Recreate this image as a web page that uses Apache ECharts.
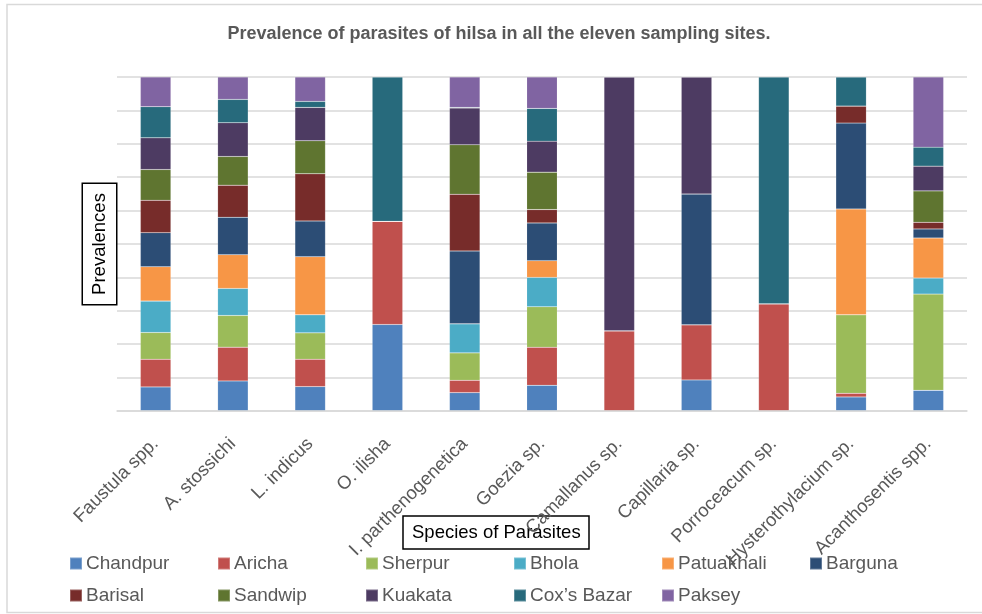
<!DOCTYPE html>
<html>
<head>
<meta charset="utf-8">
<script src="https://cdn.jsdelivr.net/npm/echarts@6/dist/echarts.min.js"></script>
<style>
html,body{margin:0;padding:0;background:#fff;}
#chart{width:982px;height:614px;}
</style>
</head>
<body>
<div id="chart"></div>
<script>
const categories = ["Faustula spp.", "A. stossichi", "L. indicus", "O. ilisha", "I. parthenogenetica", "Goezia sp.", "Camallanus sp.", "Capillaria sp.", "Porroceacum sp.", "Hysterothylacium sp.", "Acanthosentis spp."];
const sites = ["Chandpur", "Aricha", "Sherpur", "Bhola", "Patuakhali", "Barguna", "Barisal", "Sandwip", "Kuakata", "Cox’s Bazar", "Paksey"];
const chandpur   = [7.2, 9.0, 7.3, 25.9, 5.5, 7.7, 0, 9.3, 0, 4.2, 6.2];
const aricha     = [8.3, 10.1, 8.2, 30.9, 3.7, 11.4, 24.0, 16.5, 32.1, 1.1, 0];
const sherpur    = [8.0, 9.5, 7.9, 0, 8.2, 12.1, 0, 0, 0, 23.5, 28.8];
const bhola      = [9.4, 8.1, 5.4, 0, 8.7, 8.8, 0, 0, 0, 0, 4.8];
const patuakhali = [10.3, 10.1, 17.4, 0, 0, 5.0, 0, 0, 0, 31.7, 12.0];
const barguna    = [10.2, 11.2, 10.7, 0, 21.8, 11.3, 0, 39.2, 0, 25.7, 2.7];
const barisal    = [9.7, 9.6, 14.1, 0, 17.0, 4.0, 0, 0, 0, 5.1, 2.0];
const sandwip    = [9.2, 8.6, 9.9, 0, 14.8, 11.2, 0, 0, 0, 0, 9.4];
const kuakata    = [9.5, 10.1, 10.0, 0, 11.0, 9.3, 76.0, 35.0, 0, 0, 7.4];
const coxsBazar  = [9.3, 7.0, 1.8, 43.2, 0.2, 9.8, 0, 0, 67.9, 8.7, 5.7];
const paksey     = [8.9, 6.7, 7.3, 0, 9.1, 9.4, 0, 0, 0, 0, 21.0];
const seriesValues = [chandpur, aricha, sherpur, bhola, patuakhali, barguna, barisal, sandwip, kuakata, coxsBazar, paksey];
const colors = ["#4F81BD", "#C0504D", "#9BBB59", "#4BACC6", "#F79646", "#2C4D75", "#772C2A", "#5F7530", "#4D3B62", "#276A7C", "#8064A2"];

const FONT = "Liberation Sans";
const chart = echarts.init(document.getElementById('chart'));

// legend laid out in fixed columns (6 on first row, 5 on second)
const legendCols = [69, 217, 365, 513, 661, 809];
const legendRows = [565, 597];
const legends = sites.map((s, i) => ({
  data: [s],
  left: legendCols[i % 6],
  top: legendRows[Math.floor(i / 6)] - 11,
  padding: 0,
  itemWidth: 12,
  itemHeight: 12,
  itemGap: 0,
  icon: 'rect',
  selectedMode: false,
  z: 1,
  textStyle: { fontFamily: FONT, fontSize: 19, color: '#595959', padding: [0, 0, 0, -1] }
}));

chart.setOption({
  animation: false,
  color: colors,
  textStyle: { fontFamily: FONT },
  graphic: [{
    type: 'rect',
    shape: { x: 7, y: 4.5, width: 1000, height: 608 },
    style: { fill: 'none', stroke: '#d9d9d9', lineWidth: 1.5 },
    silent: true,
    z: -10
  }],
  title: [{
    text: 'Prevalence of parasites of hilsa in all the eleven sampling sites.',
    left: 499,
    textAlign: 'center',
    top: 25,
    padding: 0,
    textStyle: { fontFamily: FONT, fontSize: 18, fontWeight: 'bold', color: '#595959' }
  }, {
    text: 'Species of Parasites',
    left: 403,
    top: 516,
    padding: [6, 9, 6, 9],
    borderColor: '#000',
    borderWidth: 1.5,
    backgroundColor: '#fff',
    textStyle: { fontFamily: FONT, fontSize: 18.5, fontWeight: 'normal', color: '#000', lineHeight: 21 },
    z: 5
  }],
  legend: legends,
  grid: { left: 117, right: 15, top: 77, bottom: 203, containLabel: false },
  xAxis: {
    type: 'category',
    data: categories,
    z: 30,
    axisLine: { show: true, lineStyle: { color: '#d9d9d9', width: 1.5 } },
    axisTick: { show: false },
    axisLabel: {
      rotate: 45,
      interval: 0,
      margin: 30,
      fontFamily: FONT,
      fontSize: 18.5,
      color: '#595959'
    }
  },
  yAxis: {
    type: 'value',
    min: 0,
    max: 100,
    interval: 10,
    axisLabel: { show: false },
    axisLine: { show: false },
    axisTick: { show: false },
    splitLine: { lineStyle: { color: '#d9d9d9', width: 1.5 } },
    name: 'Prevalences',
    nameLocation: 'middle',
    nameRotate: 90,
    nameGap: 1,
    nameTextStyle: {
      fontFamily: FONT,
      fontSize: 18.5,
      color: '#000',
      borderColor: '#000',
      borderWidth: 1.5,
      backgroundColor: '#fff',
      padding: [6, 9, 6, 9],
      lineHeight: 21
    }
  },
  series: sites.map((s, i) => ({
    name: s,
    type: 'bar',
    stack: 'total',
    barWidth: '39.5%',
    data: seriesValues[i],
    itemStyle: { color: colors[i], borderColor: 'rgba(255,255,255,0.25)', borderWidth: 0.5 }
  }))
});
</script>
</body>
</html>
